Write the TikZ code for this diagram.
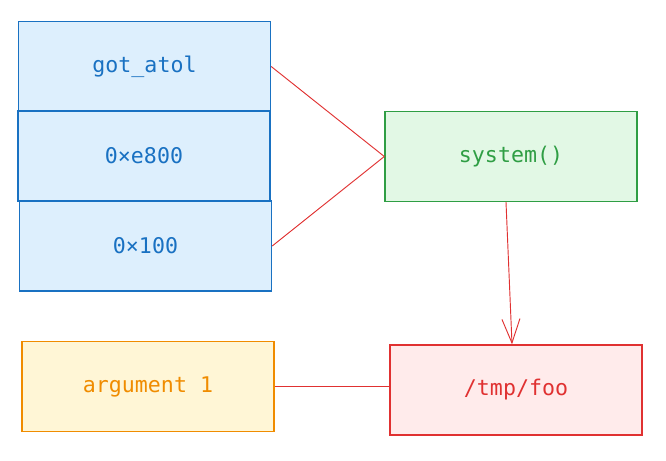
\documentclass[tikz,border=0pt]{standalone}
\usepackage{fontspec}
\setmonofont{DejaVu Sans Mono}
\usetikzlibrary{arrows.meta}
\definecolor{bstroke}{HTML}{1971C2}
\definecolor{bfill}{HTML}{DDEFFD}
\definecolor{gstroke}{HTML}{2F9E44}
\definecolor{gfill}{HTML}{E2F8E5}
\definecolor{ostroke}{HTML}{F08C00}
\definecolor{ofill}{HTML}{FFF6D6}
\definecolor{rstroke}{HTML}{E03131}
\definecolor{rfill}{HTML}{FFEBEB}
\definecolor{conn}{HTML}{E03131}
\tikzset{
  box/.style={draw, line width=1.05pt, minimum width=189pt, minimum height=67.5pt,
    inner sep=0pt, font=\ttfamily\fontsize{16.2}{18}\selectfont},
  bluebox/.style={box, draw=bstroke, fill=bfill, text=bstroke},
  greenbox/.style={box, draw=gstroke, fill=gfill, text=gstroke},
  orangebox/.style={box, draw=ostroke, fill=ofill, text=ostroke},
  redbox/.style={box, draw=rstroke, fill=rfill, text=rstroke},
  link/.style={draw=conn, line width=0.7pt},
}
\begin{document}
\begin{tikzpicture}[x=0.75pt, y=-0.75pt]
\useasboundingbox (0,0) rectangle (666,460);
\node[bluebox] (got) at (144.5,66.5) {got\_atol};
\node[bluebox] (e800) at (144,156) {0×e800};
\node[bluebox] (x100) at (145.5,246) {0×100};
\node[greenbox] (sys) at (511,156.5) {system()};
\node[orangebox] (arg) at (148,386.5) {argument 1};
\node[redbox] (foo) at (516,390) {/tmp/foo};
\draw[link] (got.east) -- (sys.west);
\draw[link] (x100.east) -- (sys.west);
\draw[link, -{Straight Barb[length=18pt,width=13.5pt]}] ([xshift=-3.75pt]sys.south) -- ([xshift=-3pt]foo.north);
\draw[link] (arg.east) -- (arg.east -| foo.west);
\end{tikzpicture}
\end{document}
